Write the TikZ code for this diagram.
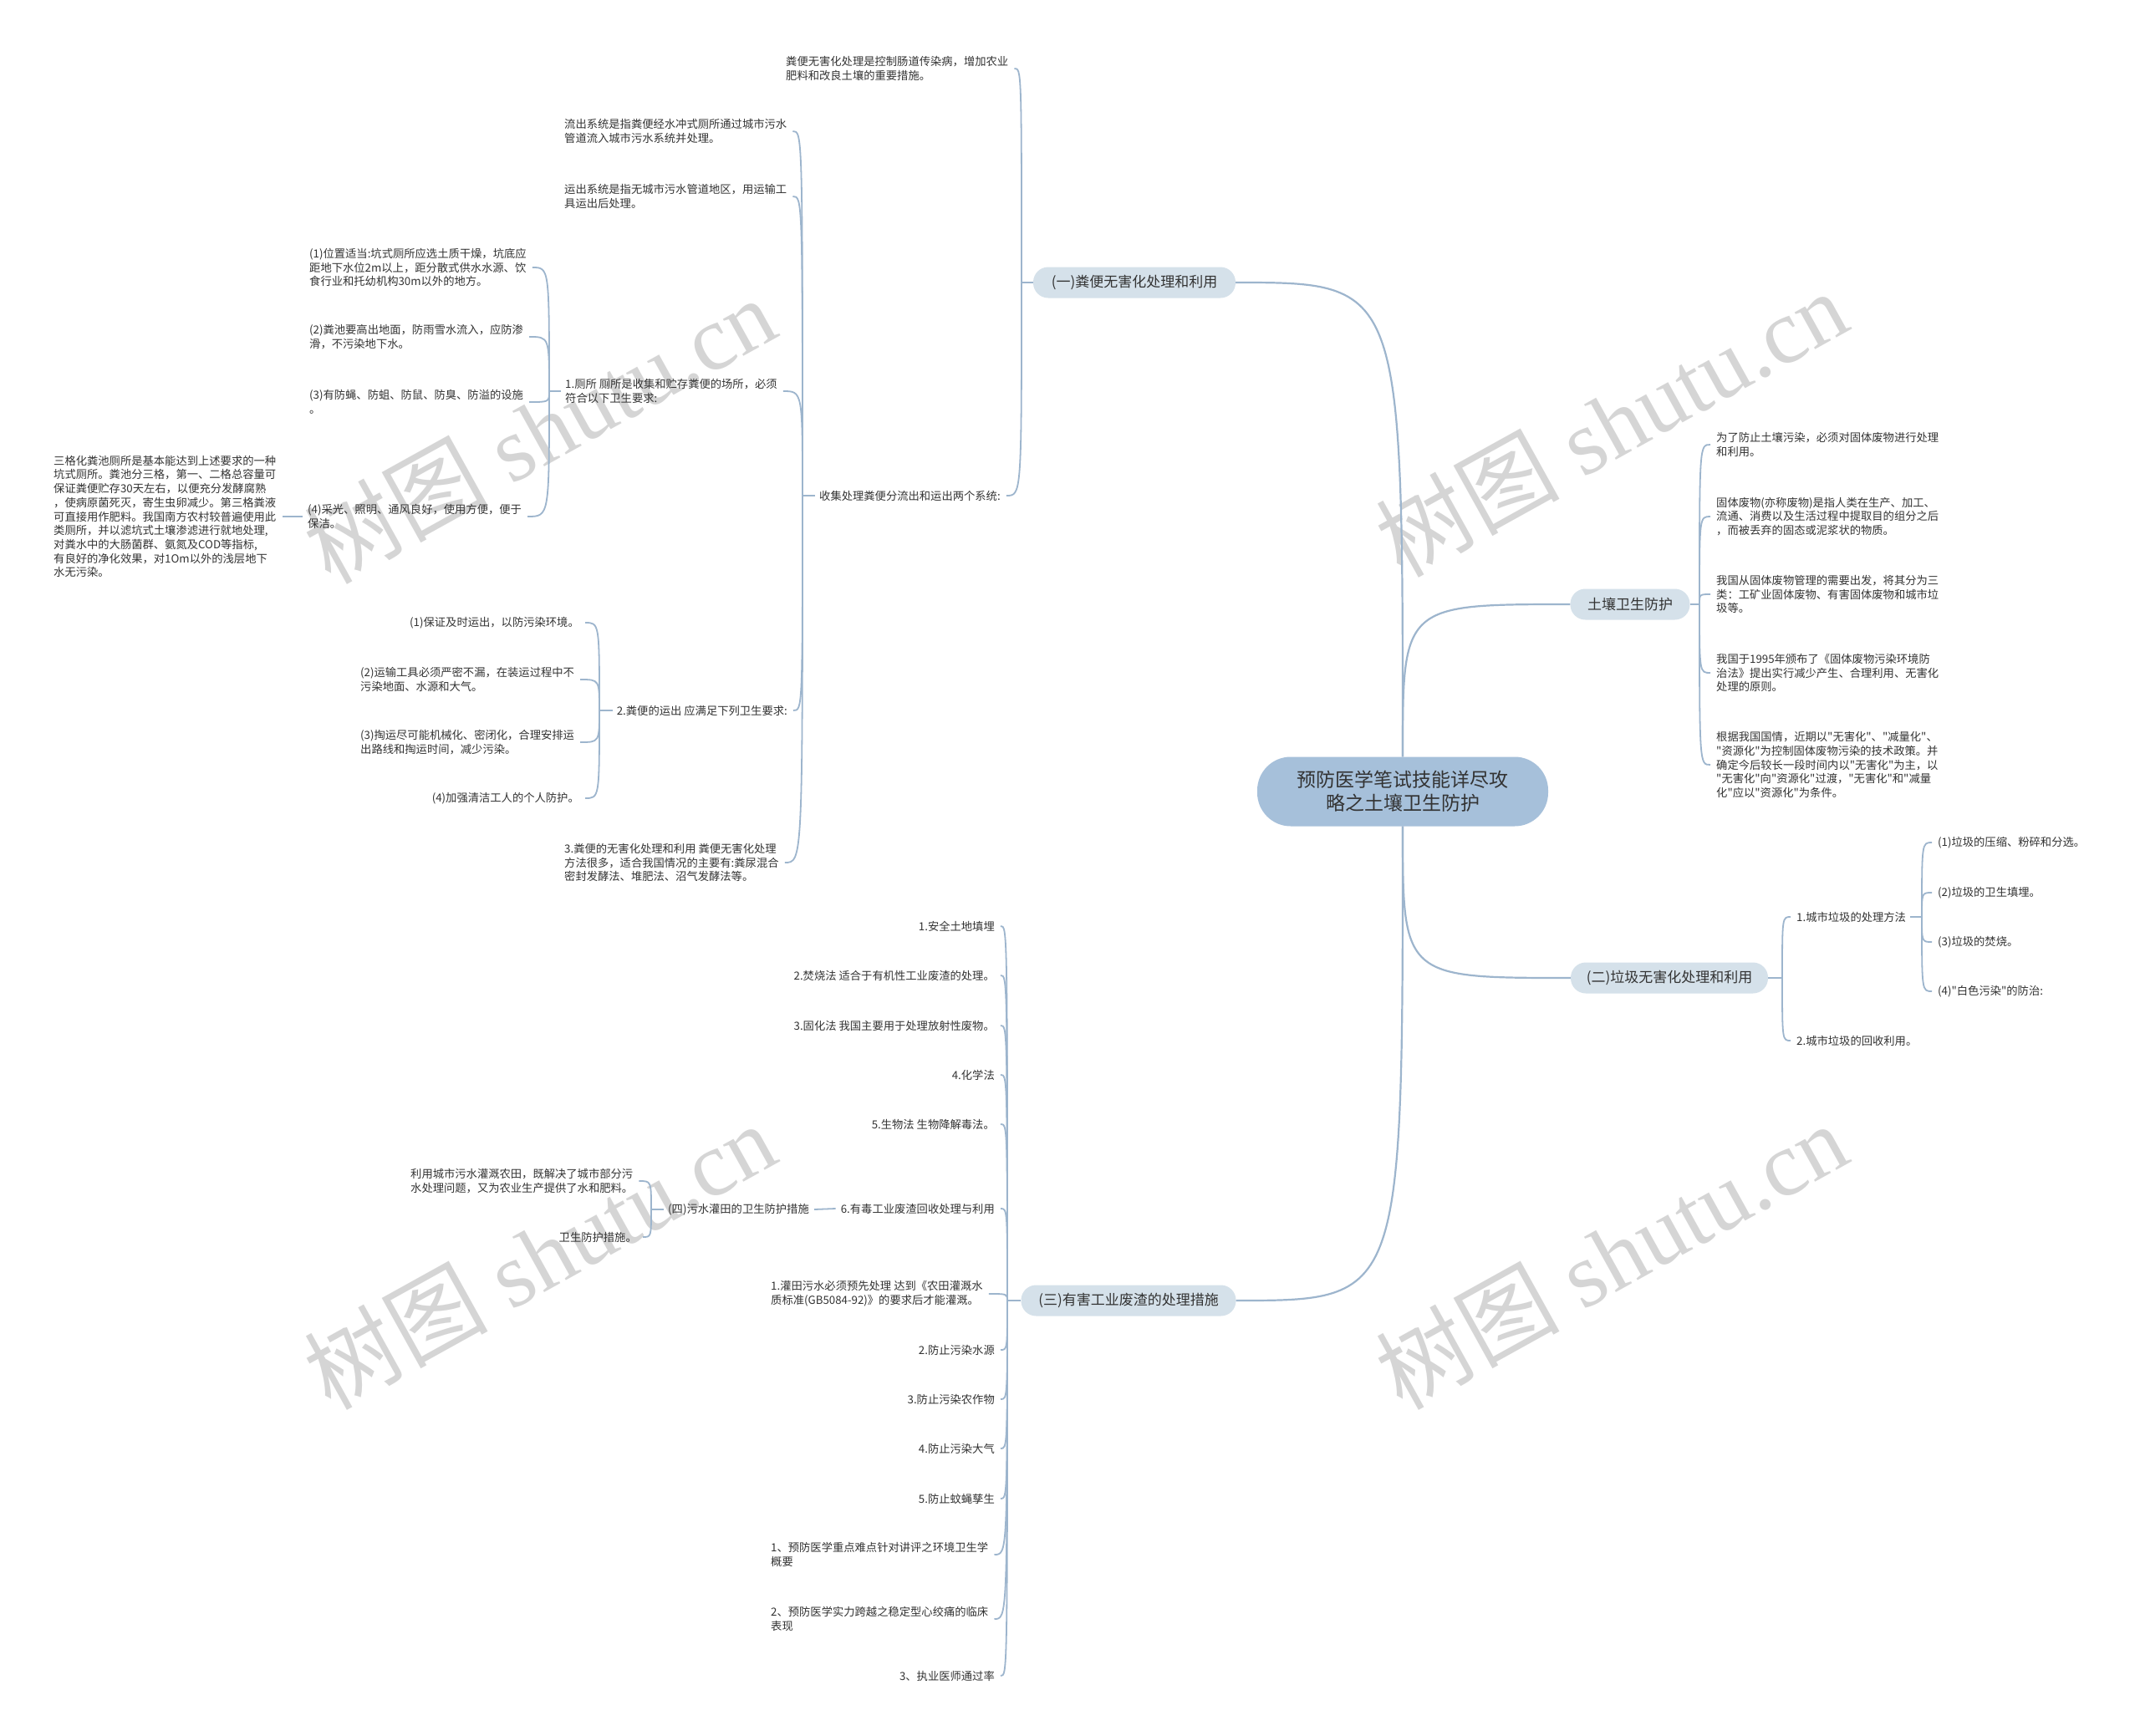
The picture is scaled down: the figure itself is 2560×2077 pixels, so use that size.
\documentclass[tikz,border=0pt]{standalone}
\usepackage{fontspec}
\setmainfont{Noto Sans CJK SC}[Ligatures=TeXOff]
\newfontfamily\wmlat{Liberation Serif}
\definecolor{linec}{HTML}{9DB5CD}
\definecolor{rootc}{HTML}{A6C0DA}
\definecolor{brc}{HTML}{D5E1EA}
\definecolor{txtc}{HTML}{333333}
\definecolor{wmc}{HTML}{C8C8C8}
\tikzset{
  txt/.style={font=\fontsize{13.3}{16.7}\selectfont, text=txtc, inner sep=0pt, align=left},
  brn/.style={fill=brc, rounded corners=18pt, font=\fontsize{17}{21}\selectfont, text=txtc, minimum height=37pt, inner sep=0pt},
  rootn/.style={fill=rootc, rounded corners=40pt, minimum width=348pt, minimum height=83pt, font=\fontsize{23}{28}\selectfont, align=center, text=txtc, inner sep=0pt},
  ln/.style={draw=linec, line width=1.8pt},
  wm/.style={text=wmc, rotate=29, font=\fontsize{110}{120}\selectfont, inner sep=0pt, opacity=0.75}
}
\newcommand\lconn[2]{\draw[ln] (#1) .. controls (#1 |- #2.east) .. ([xshift=7pt]#2.east);}
\newcommand\rconn[2]{\draw[ln] (#1) .. controls (#1 |- #2.west) .. ([xshift=-7pt]#2.west);}
\begin{document}
\begin{tikzpicture}[x=1pt,y=-1pt]
\fill[white] (0,0) rectangle (2560,2077);
\useasboundingbox (0,0) rectangle (2560,2077);

% watermarks
\node[wm] (wm1) at (645,514) {树图\hspace{0.25em}{\wmlat shutu.cn}};
\node[wm] (wm2) at (1927,506) {树图\hspace{0.25em}{\wmlat shutu.cn}};
\node[wm] (wm3) at (645,1502) {树图\hspace{0.25em}{\wmlat shutu.cn}};
\node[wm] (wm4) at (1927,1502) {树图\hspace{0.25em}{\wmlat shutu.cn}};

% root and branches
\node[rootn] (root) at (1678,947) {预防医学笔试技能详尽攻\\略之土壤卫生防护};
\node[brn, minimum width=242pt] (B1) at (1357,338) {(一)粪便无害化处理和利用};
\node[brn, minimum width=143pt] (B2) at (1950,723) {土壤卫生防护};
\node[brn, minimum width=236pt] (B3) at (1997,1170) {(二)垃圾无害化处理和利用};
\node[brn, minimum width=257pt] (B4) at (1350,1556) {(三)有害工业废渣的处理措施};

\draw[ln, line width=2.2pt] (root.north) .. controls (root.north |- B1.east) .. (B1.east);
\draw[ln, line width=2.2pt] (root.north) .. controls (root.north |- B2.west) .. (B2.west);
\draw[ln, line width=2.2pt] (root.south) .. controls (root.south |- B3.west) .. (B3.west);
\draw[ln, line width=2.2pt] (root.south) .. controls (root.south |- B4.east) .. (B4.east);

% ---- branch (一)
\node[txt, anchor=west] (c1) at (940,82) {粪便无害化处理是控制肠道传染病，增加农业\\肥料和改良土壤的重要措施。};
\node[txt, anchor=west] (c2) at (980,593) {收集处理粪便分流出和运出两个系统:};
\coordinate (pB1) at (1222,338);
\draw[ln] (B1.west) -- (pB1);
\lconn{pB1}{c1}
\lconn{pB1}{c2}

\node[txt, anchor=west] (d1) at (675,157) {流出系统是指粪便经水冲式厕所通过城市污水\\管道流入城市污水系统并处理。};
\node[txt, anchor=west] (d2) at (675,235) {运出系统是指无城市污水管道地区，用运输工\\具运出后处理。};
\node[txt, anchor=west] (d3) at (676,468) {1.厕所 厕所是收集和贮存粪便的场所，必须\\符合以下卫生要求:};
\node[txt, anchor=east] (d5) at (942,850) {2.粪便的运出 应满足下列卫生要求:};
\node[txt, anchor=west] (d4) at (675,1032) {3.粪便的无害化处理和利用 粪便无害化处理\\方法很多，适合我国情况的主要有:粪尿混合\\密封发酵法、堆肥法、沼气发酵法等。};
\coordinate (pc2) at (960,593);
\draw[ln] ([xshift=-5pt]c2.west) -- (pc2);
\lconn{pc2}{d1}
\lconn{pc2}{d2}
\lconn{pc2}{d3}
\lconn{pc2}{d5}
\lconn{pc2}{d4}

\node[txt, anchor=west] (e1) at (370,320) {(1)位置适当:坑式厕所应选土质干燥，坑底应\\距地下水位2m以上，距分散式供水水源、饮\\食行业和托幼机构30m以外的地方。};
\node[txt, anchor=west] (e2) at (370,403) {(2)粪池要高出地面，防雨雪水流入，应防渗\\滑，不污染地下水。};
\node[txt, anchor=west] (e3) at (370,481) {(3)有防蝇、防蛆、防鼠、防臭、防溢的设施\\。};
\node[txt, anchor=west] (e4) at (368,618) {(4)采光、照明、通风良好，使用方便，便于\\保洁。};
\coordinate (pd3) at (657,468);
\draw[ln] ([xshift=-5pt]d3.west) -- (pd3);
\lconn{pd3}{e1}
\lconn{pd3}{e2}
\lconn{pd3}{e3}
\lconn{pd3}{e4}

\node[txt, anchor=west] (e5) at (64,618) {三格化粪池厕所是基本能达到上述要求的一种\\坑式厕所。粪池分三格，第一、二格总容量可\\保证粪便贮存30天左右，以便充分发酵腐熟\\，使病原菌死灭，寄生虫卵减少。第三格粪液\\可直接用作肥料。我国南方农村较普遍使用此\\类厕所，并以滤坑式土壤渗滤进行就地处理,\\对粪水中的大肠菌群、氨氮及COD等指标,\\有良好的净化效果，对1Om以外的浅层地下\\水无污染。};
\draw[ln] ([xshift=-6pt]e4.west) -- ([xshift=8pt]e5.east);

\node[txt, anchor=east] (f1) at (693,745) {(1)保证及时运出，以防污染环境。};
\node[txt, anchor=west] (f2) at (431,813) {(2)运输工具必须严密不漏，在装运过程中不\\污染地面、水源和大气。};
\node[txt, anchor=west] (f3) at (431,888) {(3)掏运尽可能机械化、密闭化，合理安排运\\出路线和掏运时间，减少污染。};
\node[txt, anchor=east] (f4) at (693,955) {(4)加强清洁工人的个人防护。};
\coordinate (pd5) at (717,850);
\draw[ln] ([xshift=-5pt]d5.west) -- (pd5);
\lconn{pd5}{f1}
\lconn{pd5}{f2}
\lconn{pd5}{f3}
\lconn{pd5}{f4}

% ---- branch 土壤卫生防护
\node[txt, anchor=west] (g1) at (2053,532) {为了防止土壤污染，必须对固体废物进行处理\\和利用。};
\node[txt, anchor=west] (g2) at (2053,618) {固体废物(亦称废物)是指人类在生产、加工、\\流通、消费以及生活过程中提取目的组分之后\\，而被丢弃的固态或泥浆状的物质。};
\node[txt, anchor=west] (g3) at (2053,711) {我国从固体废物管理的需要出发，将其分为三\\类：工矿业固体废物、有害固体废物和城市垃\\圾等。};
\node[txt, anchor=west] (g4) at (2053,805) {我国于1995年颁布了《固体废物污染环境防\\治法》提出实行减少产生、合理利用、无害化\\处理的原则。};
\node[txt, anchor=west] (g5) at (2053,915) {根据我国国情，近期以"无害化"、"减量化"、\\"资源化"为控制固体废物污染的技术政策。并\\确定今后较长一段时间内以"无害化"为主，以\\"无害化"向"资源化"过渡，"无害化"和"减量\\化"应以"资源化"为条件。};
\coordinate (pB2) at (2033,723);
\draw[ln] (B2.east) -- (pB2);
\rconn{pB2}{g1}
\rconn{pB2}{g2}
\rconn{pB2}{g3}
\rconn{pB2}{g4}
\rconn{pB2}{g5}

% ---- branch (二)
\node[txt, anchor=west] (h1) at (2149,1097) {1.城市垃圾的处理方法};
\node[txt, anchor=west] (h2) at (2149,1245) {2.城市垃圾的回收利用。};
\coordinate (pB3) at (2132,1170);
\draw[ln] (B3.east) -- (pB3);
\rconn{pB3}{h1}
\rconn{pB3}{h2}

\node[txt, anchor=west] (i1) at (2318,1008) {(1)垃圾的压缩、粉碎和分选。};
\node[txt, anchor=west] (i2) at (2318,1068) {(2)垃圾的卫生填埋。};
\node[txt, anchor=west] (i3) at (2318,1127) {(3)垃圾的焚烧。};
\node[txt, anchor=west] (i4) at (2318,1186) {(4)"白色污染"的防治:};
\coordinate (ph1) at (2299,1097);
\draw[ln] ([xshift=5pt]h1.east) -- (ph1);
\rconn{ph1}{i1}
\rconn{ph1}{i2}
\rconn{ph1}{i3}
\rconn{ph1}{i4}

% ---- branch (三)
\node[txt, anchor=east] (j1) at (1190,1108) {1.安全土地填埋};
\node[txt, anchor=east] (j2) at (1190,1167) {2.焚烧法 适合于有机性工业废渣的处理。};
\node[txt, anchor=east] (j3) at (1190,1227) {3.固化法 我国主要用于处理放射性废物。};
\node[txt, anchor=east] (j4) at (1190,1286) {4.化学法};
\node[txt, anchor=east] (j5) at (1190,1345) {5.生物法 生物降解毒法。};
\node[txt, anchor=east] (j6) at (1190,1446) {6.有毒工业废渣回收处理与利用};
\node[txt, anchor=west] (j7) at (922,1548) {1.灌田污水必须预先处理 达到《农田灌溉水\\质标准(GB5084-92)》的要求后才能灌溉。};
\node[txt, anchor=east] (j8) at (1190,1615) {2.防止污染水源};
\node[txt, anchor=east] (j9) at (1190,1674) {3.防止污染农作物};
\node[txt, anchor=east] (j10) at (1190,1733) {4.防止污染大气};
\node[txt, anchor=east] (j11) at (1190,1793) {5.防止蚊蝇孳生};
\node[txt, anchor=west] (j12) at (922,1860) {1、预防医学重点难点针对讲评之环境卫生学\\概要};
\node[txt, anchor=west] (j13) at (922,1937) {2、预防医学实力跨越之稳定型心绞痛的临床\\表现};
\node[txt, anchor=east] (j14) at (1190,2005) {3、执业医师通过率};
\coordinate (pB4) at (1205,1556);
\draw[ln] (B4.west) -- (pB4);
\foreach \n in {j1,j2,j3,j4,j5,j6,j7,j8,j9,j10,j11,j12,j13,j14}{\lconn{pB4}{\n}}

\node[txt, anchor=east] (si) at (968,1447) {(四)污水灌田的卫生防护措施};
\draw[ln] ([xshift=-6pt]j6.west) -- ([xshift=6pt]si.east);
\node[txt, anchor=west] (k1) at (491,1413) {利用城市污水灌溉农田，既解决了城市部分污\\水处理问题，又为农业生产提供了水和肥料。};
\node[txt, anchor=east] (k2) at (762,1480) {卫生防护措施。};
\coordinate (psi) at (779,1447);
\draw[ln] ([xshift=-5pt]si.west) -- (psi);
\lconn{psi}{k1}
\lconn{psi}{k2}
\end{tikzpicture}
\end{document}
